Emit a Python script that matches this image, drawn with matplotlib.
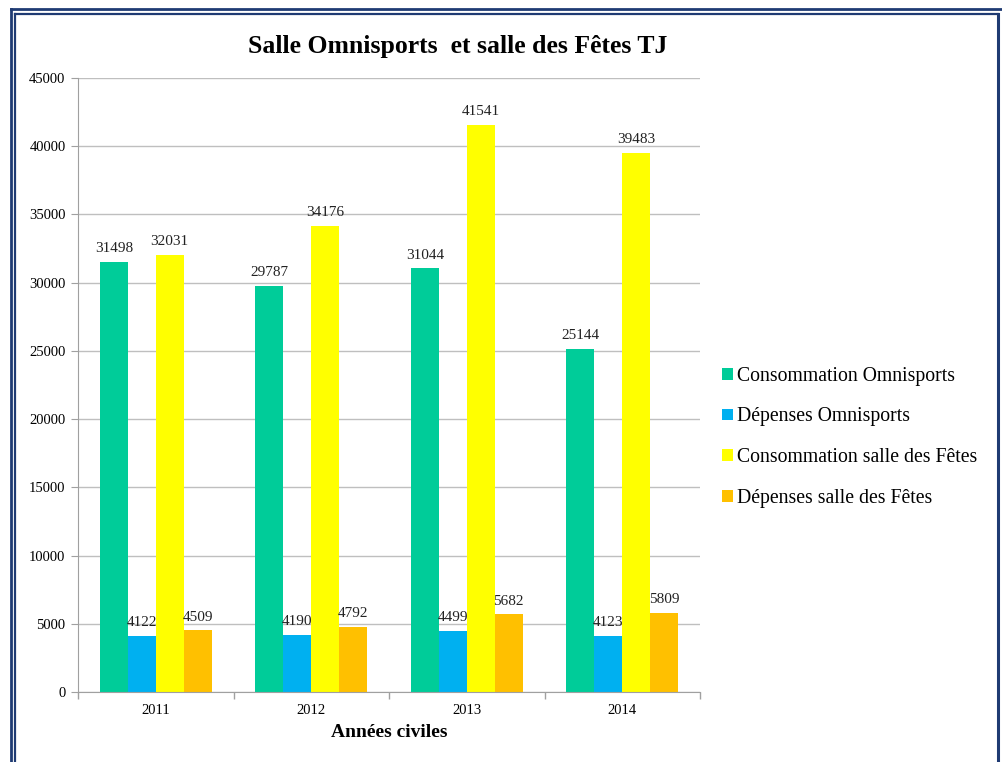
import numpy as np
import matplotlib
matplotlib.use("Agg")
import matplotlib.pyplot as plt
from matplotlib.lines import Line2D

years = ["2011", "2012", "2013", "2014"]
series_names = [
    "Consommation Omnisports",
    "Dépenses Omnisports",
    "Consommation salle des Fêtes",
    "Dépenses salle des Fêtes",
]
conso_omni = [31498, 29787, 31044, 25144]
dep_omni = [4122, 4190, 4499, 4123]
conso_fetes = [32031, 34176, 41541, 39483]
dep_fetes = [4509, 4792, 5682, 5809]
colors = ["#00CC99", "#00B0F0", "#FFFF00", "#FFC000"]

plt.rcParams["font.family"] = ["Liberation Serif", "DejaVu Serif"]

W, H = 1002, 762
fig = plt.figure(figsize=(W / 100, H / 100), dpi=100)
ax = fig.add_axes([78 / W, 1 - 692 / H, (700 - 78) / W, (692 - 78) / H])

x = np.arange(len(years))
bw = 0.18
all_series = [conso_omni, dep_omni, conso_fetes, dep_fetes]
for i, (vals, name, col) in enumerate(zip(all_series, series_names, colors)):
    pos = x + (i - 1.5) * bw
    bars = ax.bar(pos, vals, bw, color=col, label=name, zorder=2)
    for b, v in zip(bars, vals):
        ax.text(b.get_x() + b.get_width() / 2, v + 500, str(v),
                ha="center", va="bottom", fontsize=11, color="#222222")

ax.set_xlim(-0.5, len(years) - 0.5)
ax.set_ylim(0, 45000)
ax.set_yticks(np.arange(0, 45001, 5000))
ax.set_xticks(x)
ax.set_xticklabels(years)
ax.set_xticks(np.arange(-0.5, len(years), 1), minor=True)
ax.tick_params(axis="x", which="major", length=0, labelsize=10.5, pad=9)
ax.tick_params(axis="x", which="minor", length=5, color="#A0A0A0", width=1)
ax.tick_params(axis="y", length=5, color="#A0A0A0", labelsize=10.5, pad=4)
ax.grid(axis="y", color="#BFBFBF", linewidth=1, zorder=0)
for s in ["top", "right"]:
    ax.spines[s].set_visible(False)
for s in ["left", "bottom"]:
    ax.spines[s].set_color("#A0A0A0")

ax.set_xlabel("Années civiles", fontsize=14, fontweight="bold", labelpad=5)
fig.text(458 / W, 1 - 46 / H, "Salle Omnisports  et salle des Fêtes TJ",
         ha="center", va="center", fontsize=18.5, fontweight="bold")

leg = fig.legend(loc="upper left", bbox_to_anchor=(704 / W, 1 - 349 / H),
                 frameon=False, fontsize=14.2, handlelength=0.55, handleheight=0.55,
                 handletextpad=0.22, labelspacing=1.1)

# double navy frame
navy = "#1F3B73"
fig.add_artist(Line2D([10.5 / W, 10.5 / W], [0, 1 - 8.5 / H], color=navy, lw=2, transform=fig.transFigure))
fig.add_artist(Line2D([10.5 / W, 1], [1 - 8.5 / H, 1 - 8.5 / H], color=navy, lw=2, transform=fig.transFigure))
fig.add_artist(Line2D([14.5 / W, 14.5 / W], [0, 1 - 13.5 / H], color=navy, lw=1.6, transform=fig.transFigure))
fig.add_artist(Line2D([14.5 / W, 998 / W], [1 - 13.5 / H, 1 - 13.5 / H], color=navy, lw=1.6, transform=fig.transFigure))
fig.add_artist(Line2D([998 / W, 998 / W], [0, 1 - 13.5 / H], color=navy, lw=2.2, transform=fig.transFigure))

fig.savefig("out.png", dpi=100)
